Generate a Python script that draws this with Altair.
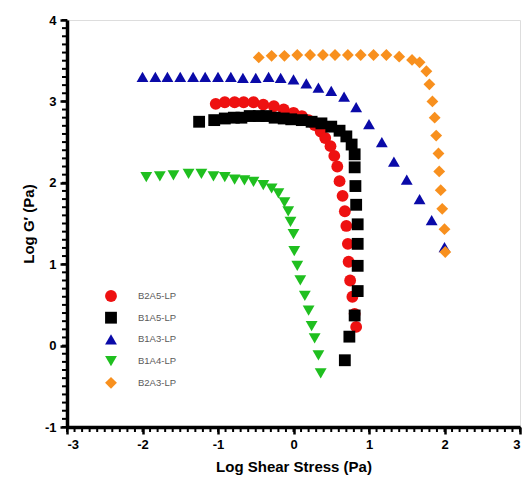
import altair as alt
import pandas as pd

series_order = ["B2A5-LP", "B1A5-LP", "B1A3-LP", "B1A4-LP", "B2A3-LP"]
series_colors = ["#ee1111", "#000000", "#0a0aa8", "#1fbf1f", "#f8901e"]
series_shapes = ["circle", "square", "triangle-up", "triangle-down", "diamond"]
series_sizes = [140, 140, 140, 140, 95]

# B2A5-LP (red circles)
b2a5_x = [-1.03, -0.91, -0.78, -0.66, -0.53, -0.40, -0.26, -0.13, 0.00, 0.11, 0.20, 0.28,
          0.36, 0.42, 0.49, 0.54, 0.58, 0.61, 0.65, 0.68, 0.70, 0.72, 0.73, 0.75, 0.78, 0.81, 0.83]
b2a5_y = [2.97, 2.99, 2.99, 2.99, 2.99, 2.96, 2.94, 2.90, 2.86, 2.82, 2.77, 2.71,
          2.63, 2.55, 2.45, 2.33, 2.20, 2.02, 1.84, 1.65, 1.47, 1.25, 1.03, 0.80, 0.60, 0.39, 0.23]

# B1A5-LP (black squares)
b1a5_x = [-1.25, -1.05, -0.91, -0.79, -0.69, -0.58, -0.46, -0.36, -0.25, -0.13, -0.03, 0.11,
          0.24, 0.37, 0.50, 0.61, 0.70, 0.77, 0.81, 0.81, 0.82, 0.83, 0.85, 0.85, 0.85, 0.85,
          0.81, 0.74, 0.68]
b1a5_y = [2.75, 2.77, 2.79, 2.80, 2.80, 2.82, 2.82, 2.82, 2.80, 2.79, 2.78, 2.77,
          2.75, 2.73, 2.69, 2.64, 2.57, 2.47, 2.35, 2.19, 1.96, 1.73, 1.49, 1.25, 0.98, 0.67,
          0.37, 0.11, -0.18]

# B1A3-LP (blue triangles)
b1a3_x = [-2.00, -1.83, -1.67, -1.50, -1.33, -1.17, -1.00, -0.83, -0.67, -0.50, -0.33, -0.17,
          0.00, 0.17, 0.33, 0.50, 0.67, 0.83, 1.00, 1.17, 1.33, 1.50, 1.67, 1.83, 2.00]
b1a3_y = [3.30, 3.30, 3.30, 3.30, 3.30, 3.30, 3.30, 3.30, 3.29, 3.29, 3.30, 3.29,
          3.27, 3.22, 3.17, 3.13, 3.06, 2.93, 2.72, 2.50, 2.26, 2.04, 1.80, 1.54, 1.21]

# B1A4-LP (green inverted triangles)
b1a4_x = [-1.95, -1.77, -1.59, -1.39, -1.22, -1.06, -0.91, -0.78, -0.65, -0.53, -0.40, -0.29,
          -0.20, -0.12, -0.07, -0.04, 0.00, 0.01, 0.05, 0.09, 0.15, 0.20, 0.24, 0.28, 0.33, 0.36]
b1a4_y = [2.07, 2.08, 2.09, 2.11, 2.11, 2.08, 2.07, 2.04, 2.03, 2.01, 1.97, 1.93,
          1.87, 1.76, 1.65, 1.52, 1.37, 1.16, 0.98, 0.80, 0.61, 0.43, 0.24, 0.09, -0.12, -0.34]

# B2A3-LP (orange diamonds)
b2a3_x = [-0.46, -0.29, -0.12, 0.05, 0.22, 0.39, 0.55, 0.72, 0.89, 1.06, 1.23, 1.40, 1.57,
          1.67, 1.76, 1.80, 1.84, 1.87, 1.89, 1.92, 1.93, 1.95, 1.97, 2.00, 2.01]
b2a3_y = [3.54, 3.56, 3.56, 3.57, 3.57, 3.57, 3.57, 3.57, 3.57, 3.57, 3.57, 3.55, 3.51,
          3.48, 3.37, 3.21, 3.00, 2.80, 2.58, 2.36, 2.14, 1.91, 1.68, 1.43, 1.15]

x_major = [-3, -2, -1, 0, 1, 2, 3]
y_major = [-1, 0, 1, 2, 3, 4]
x_minor = [round(-3 + 0.1 * i, 1) for i in range(61)]
y_minor = [round(-1 + 0.1 * i, 1) for i in range(51)]

rows = []
for name, xs, ys in [
    ("B2A5-LP", b2a5_x, b2a5_y),
    ("B1A5-LP", b1a5_x, b1a5_y),
    ("B1A3-LP", b1a3_x, b1a3_y),
    ("B1A4-LP", b1a4_x, b1a4_y),
    ("B2A3-LP", b2a3_x, b2a3_y),
]:
    for xv, yv in zip(xs, ys):
        rows.append({"x": xv, "y": yv, "series": name})
df = pd.DataFrame(rows)

FONT = "Liberation Sans"
PLOT_W, PLOT_H = 453, 407

xscale = alt.Scale(domain=[-3, 3], nice=False, zero=False)
yscale = alt.Scale(domain=[-1, 4], nice=False, zero=False)

label_expr = "'' + datum.value"

legend = alt.Legend(
    orient="none", legendX=38, legendY=270, padding=0, title=None,
    rowPadding=9.7, labelOffset=21,
    labelFont=FONT, labelFontSize=9.5, labelColor="#5a5a5a", symbolStrokeWidth=0,
)

points = alt.Chart(df).mark_point(filled=True, opacity=1, strokeWidth=0).encode(
    x=alt.X("x:Q", scale=xscale, axis=alt.Axis(
        orient="bottom", values=x_major, title="Log Shear Stress (Pa)", labelExpr=label_expr,
        domainColor="black", domainWidth=3.5, tickColor="black", tickWidth=2.5, tickSize=7,
        labelFont=FONT, labelFontSize=13, labelFontWeight="bold", labelColor="black",
        labelPadding=4, titleFont=FONT, titleFontSize=15, titleFontWeight="bold",
        titleColor="black", titlePadding=8, grid=False)),
    y=alt.Y("y:Q", scale=yscale, axis=alt.Axis(
        orient="left", values=y_major, title="Log G\u2032 (Pa)", labelExpr=label_expr,
        domainColor="black", domainWidth=3.5, tickColor="black", tickWidth=2.5, tickSize=7,
        labelFont=FONT, labelFontSize=13, labelFontWeight="bold", labelColor="black",
        labelPadding=4, titleFont=FONT, titleFontSize=15, titleFontWeight="bold",
        titleColor="black", titlePadding=8, grid=False)),
    color=alt.Color("series:N", scale=alt.Scale(domain=series_order, range=series_colors),
                    sort=series_order, legend=legend),
    shape=alt.Shape("series:N", scale=alt.Scale(domain=series_order, range=series_shapes),
                    sort=series_order, legend=legend),
    size=alt.Size("series:N", scale=alt.Scale(domain=series_order, range=series_sizes),
                  sort=series_order, legend=legend),
)

xminor_df = pd.DataFrame({"x": x_minor})
yminor_df = pd.DataFrame({"y": y_minor})

xminor = alt.Chart(xminor_df).mark_rule(color="black", strokeWidth=2).encode(
    x=alt.X("x:Q", scale=xscale),
    y=alt.value(PLOT_H),
    y2=alt.value(PLOT_H + 5),
)
yminor = alt.Chart(yminor_df).mark_rule(color="black", strokeWidth=2).encode(
    y=alt.Y("y:Q", scale=yscale),
    x=alt.value(0),
    x2=alt.value(-5),
)

chart = alt.layer(points, xminor, yminor).properties(
    width=PLOT_W, height=PLOT_H,
    padding={"left": 67, "top": 20, "right": 4, "bottom": 58},
    autosize=alt.AutoSizeParams(type="none"),
).configure_view(
    stroke="black", strokeWidth=2.5
).configure(background="white")

chart.save("out.html", embed_options={"renderer": "svg", "actions": False})
